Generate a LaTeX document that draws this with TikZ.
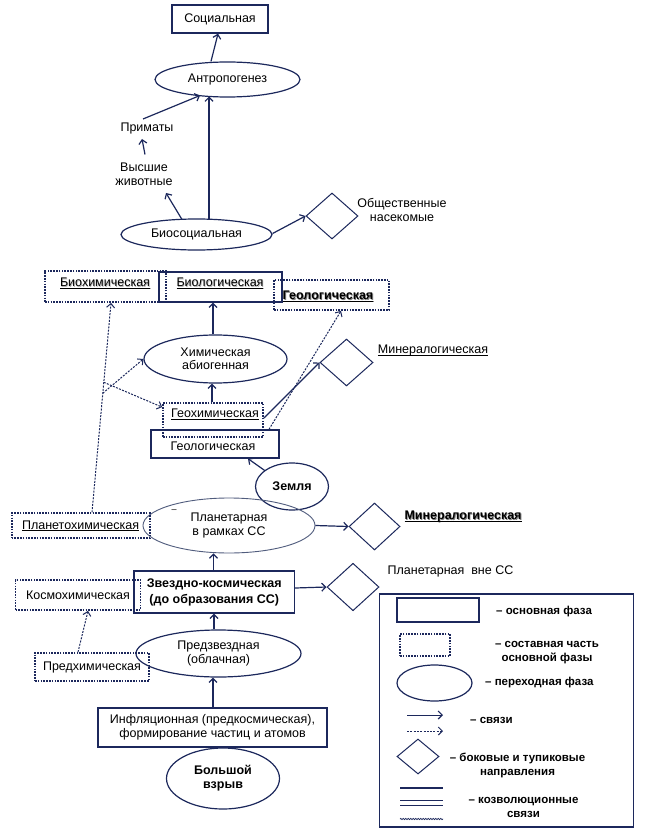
\documentclass[tikz,border=0pt]{standalone}
\usepackage{fontspec}
\setmainfont{Liberation Sans}
\usetikzlibrary{shapes.geometric,arrows.meta,calc,decorations.pathmorphing}
\definecolor{navy}{RGB}{28,40,92}
\definecolor{plancol}{RGB}{80,92,125}
\newcommand{\uln}[1]{\underline{\smash{#1}}\vphantom{#1}}
\newcommand{\shul}[1]{\makebox[0pt][l]{\hspace{0.8pt}\raisebox{-0.8pt}{\color{black!50}\underline{\smash{#1}}}}\uln{#1}}
\newcommand{\shlt}[1]{\makebox[0pt][l]{\hspace{0.7pt}\raisebox{-0.9pt}{\color{black!30}\underline{\smash{#1}}}}\uln{#1}}
\tikzset{
  base/.style={font=\fontsize{12.5}{14}\selectfont, align=center, inner sep=0pt, text=black},
  bfb/.style={base, font=\fontsize{12.5}{14}\selectfont\bfseries},
  legt/.style={base, font=\fontsize{11.5}{14}\selectfont\bfseries},
  phase/.style={base, rectangle, draw=navy, line width=1.3pt},
  part/.style={base, rectangle, draw=navy, line width=1.8pt, dash pattern=on 1.6pt off 1.2pt},
  trans/.style={base, ellipse, draw=navy, line width=1.2pt},
  side/.style={diamond, draw=navy, line width=1pt, inner sep=0pt},
  lbl/.style={base},
  arr/.style={draw=navy, line width=1.2pt, -{Straight Barb[length=4pt,width=8pt,line width=1.2pt]}},
  darr/.style={draw=navy, line width=1pt, dash pattern=on 2pt off 1.3pt, -{Straight Barb[length=4pt,width=8pt,line width=1pt]}}
}
\begin{document}
\begin{tikzpicture}[x=1pt,y=-1pt]
\fill[white] (0,0) rectangle (646,834);
\useasboundingbox (0,0) rectangle (646,834);

% top
\node[phase, minimum width=96pt, minimum height=28pt] (soc) at (220,19) {Социальная};
\node[trans, minimum width=145pt, minimum height=35pt] (antr) at (227.5,79.5) {Антропогенез};
\node[lbl] (prim) at (147,128) {Приматы};
\node[lbl] (vysh) at (144,174.5) {Высшие\\животные};
\node[trans, minimum width=151pt, minimum height=31pt] (bios) at (196.5,234.5) {Биосоциальная};
\node[side, minimum width=52pt, minimum height=46pt] (dObsh) at (332,216) {};
\node[lbl] (obsh) at (402,210) {Общественные\\насекомые};

% biology level
\node[phase, minimum width=123pt, minimum height=30pt] (biol) at (220.5,287) {};
\node[part, minimum width=121pt, minimum height=31pt] (biohim) at (105.5,286.5) {};
\node[lbl] (biohimT) at (105,283.5) {\shlt{Биохимическая}};
\node[lbl] (biolT) at (220,283.5) {\shlt{Биологическая}};
\node[part, minimum width=115pt, minimum height=30pt] (geol2) at (331.5,295) {};
\node[bfb] (geol2T) at (328,296.5) {\shul{Геологическая}};

% chemistry level
\node[trans, minimum width=143pt, minimum height=48pt, font=\fontsize{12.5}{12.5}\selectfont] (him) at (215.5,359) {Химическая\\абиогенная};
\node[phase, minimum width=128pt, minimum height=28pt] (geol) at (215,444) {};
\node[lbl] (geolT) at (213,446.5) {Геологическая};
\node[part, minimum width=100pt, minimum height=34pt] (geohim) at (213,420) {};
\node[lbl] (geohimT) at (215,414.5) {\uln{Геохимическая}};
\node[side, minimum width=53pt, minimum height=47pt] (dMin1) at (346.5,362.5) {};
\node[lbl] (min1) at (433,350.5) {\uln{Минералогическая}};
\node[trans, minimum width=73pt, minimum height=47pt, font=\fontsize{12.5}{14}\selectfont\bfseries] (zem) at (292,486.5) {Земля};

% planetary level
\node[trans, draw=plancol, line width=0.9pt, minimum width=172pt, minimum height=55pt] (plan) at (229,525.5) {Планетарная\\в рамках СС};
\node[base, font=\fontsize{9}{9}\selectfont] (tick) at (174,511) {–};
\node[part, minimum width=138pt, minimum height=25pt] (planhim) at (80.6,525.8) {\uln{Планетохимическая}};
\node[side, minimum width=51pt, minimum height=47pt] (dMin2) at (374.5,526.5) {};
\node[bfb] (min2) at (463,516.5) {\shul{Минералогическая}};

% star level
\node[phase, minimum width=160.5pt, minimum height=42pt, font=\fontsize{12.5}{16}\selectfont\bfseries] (zvezd) at (214.25,592) {Звездно-космическая\\(до образования СС)};
\node[side, minimum width=52pt, minimum height=47.5pt] (dPlan) at (353,587) {};
\node[lbl] (planvne) at (450.5,571) {Планетарная\ \ вне СС};
\node[part, minimum width=125pt, minimum height=30pt] (kosmo) at (78,595) {Космохимическая};
\node[trans, minimum width=165pt, minimum height=47pt] (pred) at (218.5,653.5) {Предзвездная\\(облачная)};
\node[part, minimum width=114pt, minimum height=28pt] (predhim) at (92,667) {Предхимическая};
\node[phase, minimum width=229pt, minimum height=39pt] (infl) at (212.5,727.5) {Инфляционная (предкосмическая),\\формирование частиц и атомов};
\node[trans, minimum width=113pt, minimum height=61pt, font=\fontsize{12.5}{14}\selectfont\bfseries] (bv) at (223,778.5) {Большой\\взрыв};

% connectors
\draw[arr] ($(antr.north)+(-16.5,0)$) -- ($(soc.south)+(-2,0)$);
\draw[arr] ($(prim.center)+(-4,-9)$) -- ($(antr.center)+(-27.5,16)$);
\draw[arr] ($(vysh.center)+(1,-20)$) -- ($(prim.center)+(-5,11)$);
\draw[arr] ($(bios.center)+(12.5,-15.2)$) -- ($(antr.center)+(-18.5,17)$);
\draw[arr] ($(bios.center)+(-14.5,-15)$) -- ($(vysh.center)+(22,18.5)$);
\draw[arr] ($(bios.east)+(0,-1)$) -- (dObsh.west);
\draw[arr] ($(him.north)+(-2.5,0)$) -- ($(biol.south)+(-7.5,0)$);
\draw[arr] ($(geohim.north)+(-1,0)$) -- ($(him.south)+(-3.5,0)$);
\draw[arr] ($(geohim.east)+(0,-2)$) -- (dMin1.west);
\draw[darr] ($(geol.north)+(54,0)$) -- ($(geol2.south)+(9.5,0)$);
\draw[arr] ($(zem.center)+(-27,-15.8)$) -- ($(geol.south)+(33,0)$);
\coordinate (phTop) at ($(planhim.north)+(11.4,0)$);
\coordinate (bhBot) at ($(biohim.south)+(5.5,0)$);
\draw[darr] (phTop) -- (bhBot);
\draw[darr] ($(phTop)!0.569!(bhBot)$) -- (him.west);
\draw[darr] ($(phTop)!0.621!(bhBot)$) -- ($(geohim.north west)+(0,5)$);
\draw[arr] ($(zvezd.north)+(-0.75,0)$) -- ($(plan.south)+(-15.5,0)$);
\draw[arr] (plan.east) -- (dMin2.west);
\draw[arr] ($(zvezd.east)+(0,-4)$) -- (dPlan.west);
\draw[arr] ($(pred.north)+(-4.5,0)$) -- ($(zvezd.south)+(-0.25,0)$);
\draw[darr] ($(predhim.north)+(-14,0)$) -- ($(kosmo.south)+(10,0)$);
\draw[arr] ($(infl.north)+(0.5,0)$) -- ($(pred.south)+(-5.5,0)$);

% legend
\node[draw=navy, line width=1.2pt, minimum width=254pt, minimum height=233pt, inner sep=0pt] (leg) at (506.5,710.5) {};
\node[phase, minimum width=82pt, minimum height=24pt] (lg1) at (438,610) {};
\node[legt, anchor=west] (lt1) at (496,612) {– основная фаза};
\node[part, minimum width=50pt, minimum height=22pt] (lg2) at (425,645) {};
\node[legt] (lt2) at (547,653) {– составная часть\\основной фазы};
\node[trans, minimum width=75pt, minimum height=36pt] (lg3) at (434.5,683) {};
\node[legt, anchor=west] (lt3) at (485,683) {– переходная фаза};
\coordinate (la1) at (407,715); \coordinate (lb1) at (443,715);
\coordinate (la2) at (407,731); \coordinate (lb2) at (443,731);
\draw[arr, line width=1pt] (la1) -- (lb1);
\draw[darr] (la2) -- (lb2);
\node[legt, anchor=west] (lt4) at (470,720) {– связи};
\node[side, minimum width=42pt, minimum height=35pt] (lg5) at (418,756.5) {};
\node[legt] (lt5) at (517.5,765) {– боковые и тупиковые\\направления};
\coordinate (l1a) at (400,788); \coordinate (l1b) at (443,788);
\coordinate (l2a) at (400,800); \coordinate (l2b) at (443,800);
\coordinate (l3a) at (400,805); \coordinate (l3b) at (443,805);
\coordinate (l4a) at (400,819); \coordinate (l4b) at (443,819);
\draw[navy, line width=1.3pt] (l1a) -- (l1b);
\draw[navy, line width=1pt] (l2a) -- (l2b);
\draw[navy, line width=1pt] (l3a) -- (l3b);
\draw[navy, line width=0.7pt, decorate, decoration={snake, amplitude=0.7pt, segment length=2.5pt}] (l4a) -- (l4b);
\node[legt] (lt6) at (523.5,807) {– козволюционные\\связи};
\end{tikzpicture}
\end{document}
